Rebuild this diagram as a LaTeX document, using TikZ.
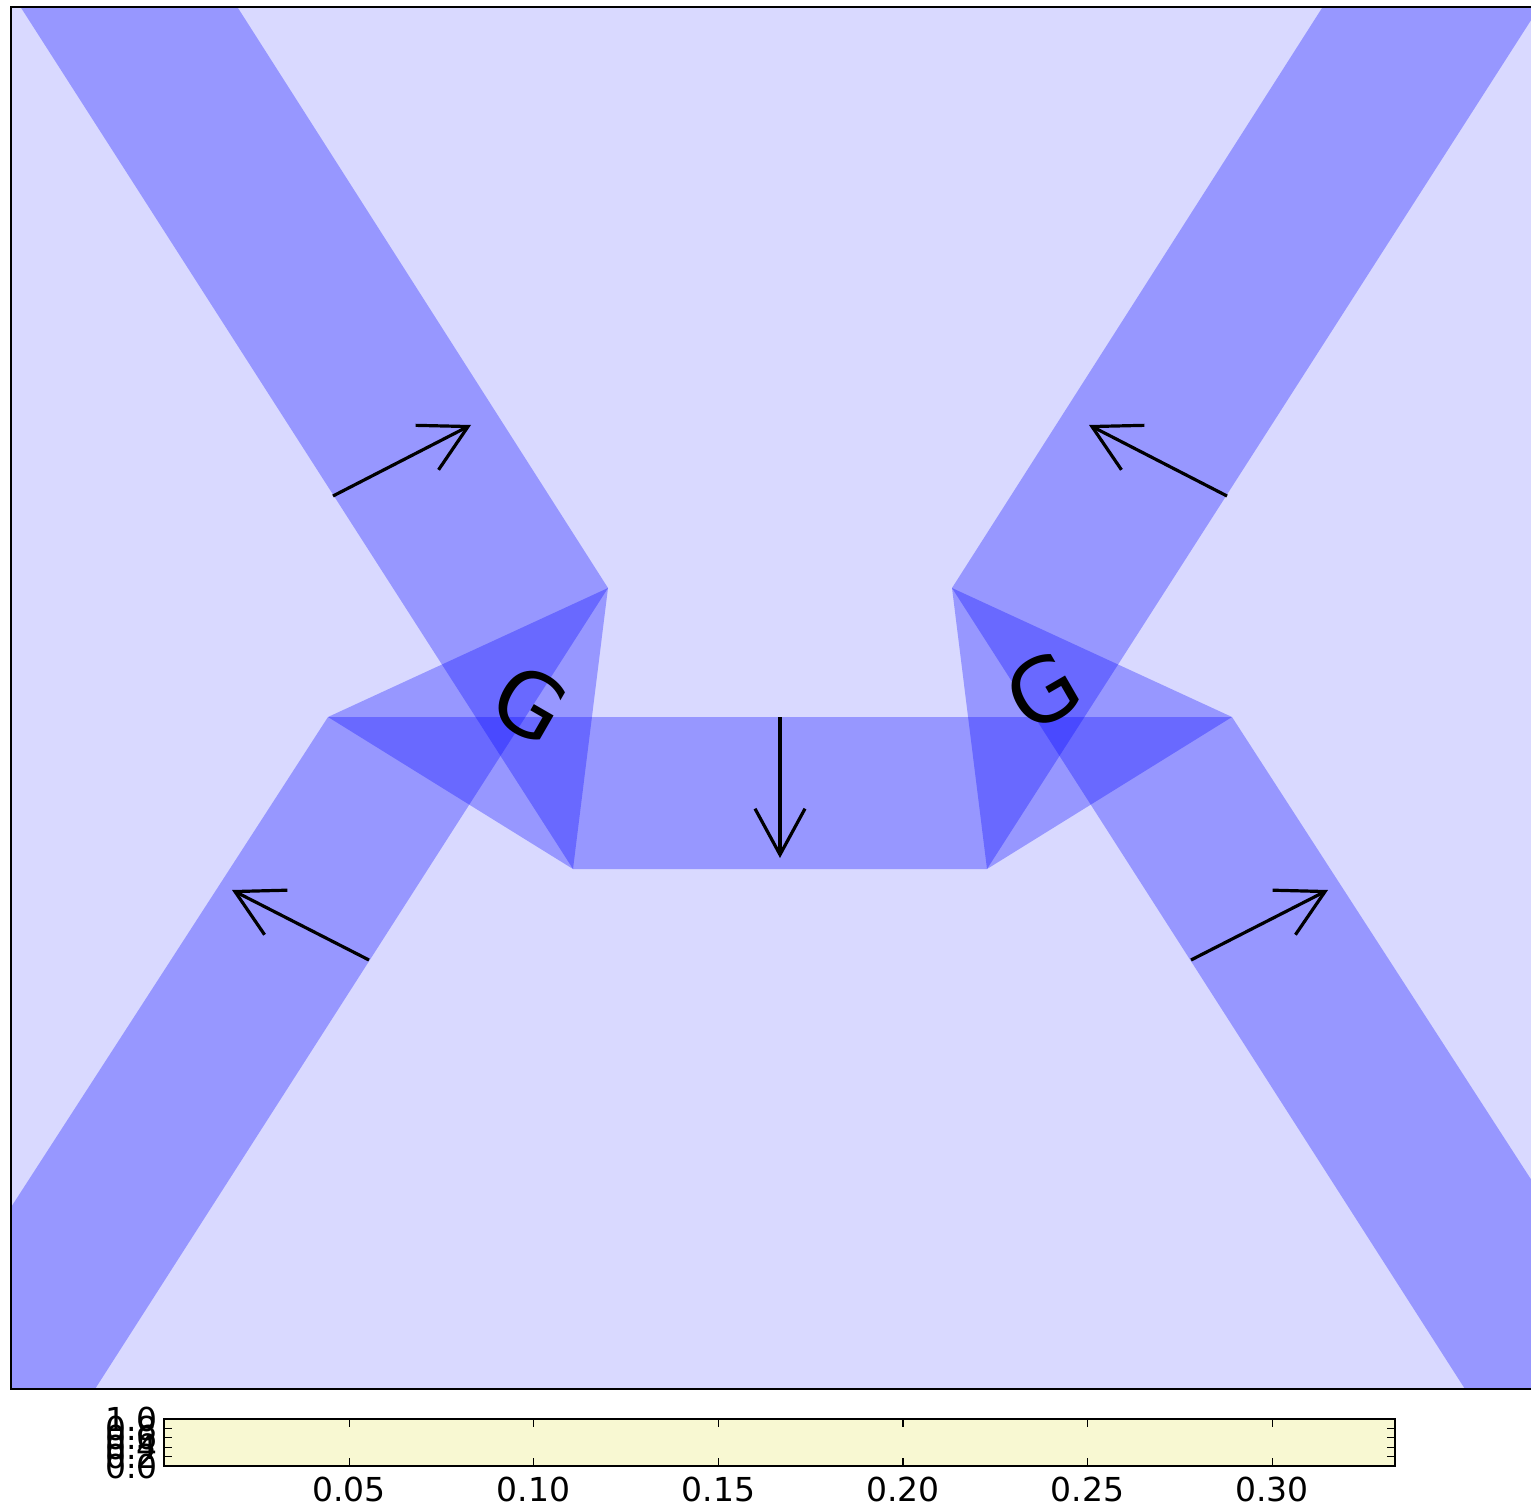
\documentclass[tikz,border=0pt]{standalone}
\usepackage{fontspec}
\setmainfont{DejaVu Sans}
\usetikzlibrary{arrows.meta}

\definecolor{bgblue}{RGB}{217,217,255}
\definecolor{barfill}{RGB}{248,248,210}

\tikzset{
  band/.style={fill=blue, fill opacity=0.3},
  flux/.style={line width=1.6pt, -{Straight Barb[length=23pt,width=25pt]}},
  tickmark/.style={line width=0.6pt},
  ticklabel/.style={font=\fontsize{16.5}{16.5}\selectfont, inner sep=0pt},
  glabel/.style={font=\fontsize{44}{44}\selectfont, inner sep=0pt}
}

\begin{document}
\begin{tikzpicture}[x=0.5pt, y=-0.5pt]
    \useasboundingbox (0,0) rectangle (1531,1508);
    % plot frame
    \coordinate (nw) at (11,7);
    \coordinate (se) at (1549,1389);
    % junction corners
    \coordinate (la) at (608,588);
    \coordinate (lb) at (328,717);
    \coordinate (lc) at (573,869);
    \coordinate (ra) at (952,588);
    \coordinate (rb) at (1232,717);
    \coordinate (rc) at (987,869);

    \begin{scope}
        \clip (nw) rectangle (se);
        \fill[bgblue] (nw) rectangle (se);
        % legs
        \fill[band] (-16,-50) -- (201,-50) -- (la) -- (lc) -- cycle;
        \fill[band] (1576,-50) -- (1359,-50) -- (ra) -- (rc) -- cycle;
        \fill[band] (lb) -- (la) -- (56,1450) -- (-146,1450) -- cycle;
        \fill[band] (rb) -- (ra) -- (1504,1450) -- (1706,1450) -- cycle;
        % middle strip
        \fill[band] (lb) -- (rb) -- (rc) -- (lc) -- cycle;
    \end{scope}
    \draw[line width=1.2pt] (se) -- (nw |- se) -- (nw) -- (se |- nw);

    % arrows
    \draw[flux] (333,496) -- (471,425);
    \draw[flux] (1227,496) -- (1089,425);
    \draw[flux] (369,960) -- (232,890);
    \draw[flux] (1191,960) -- (1328,890);
    \draw[flux] (780,717) -- (780,858);

    \node[glabel, rotate=-30] (gleft) at (530,704) {G};
    \node[glabel, rotate=30] (gright) at (1043,691) {G};

    % colour bar
    \coordinate (cbl) at (164,1466);
    \coordinate (cbr) at (1395,1419);
    \draw[fill=barfill, line width=1.2pt] (cbl) rectangle (cbr);
    \foreach \v/\lab in {1/0.05, 2/0.10, 3/0.15, 4/0.20, 5/0.25, 6/0.30} {
        \pgfmathsetmacro{\xx}{164.5+\v*184.6}
        \draw[tickmark] (\xx,1466) -- ++(0,-8);
        \draw[tickmark] (\xx,1419) -- ++(0,8);
        \node[ticklabel, anchor=north] at (\xx,1477) {\lab};
    }
    \foreach \k/\lab in {0/0.0, 1/0.2, 2/0.4, 3/0.6, 4/0.8, 5/1.0} {
        \pgfmathsetmacro{\yy}{1466-9.4*\k}
        \draw[tickmark] (164,\yy) -- ++(8,0);
        \draw[tickmark] (1395,\yy) -- ++(-8,0);
        \node[ticklabel, anchor=east] at (158,\yy) {\lab};
    }
\end{tikzpicture}
\end{document}
